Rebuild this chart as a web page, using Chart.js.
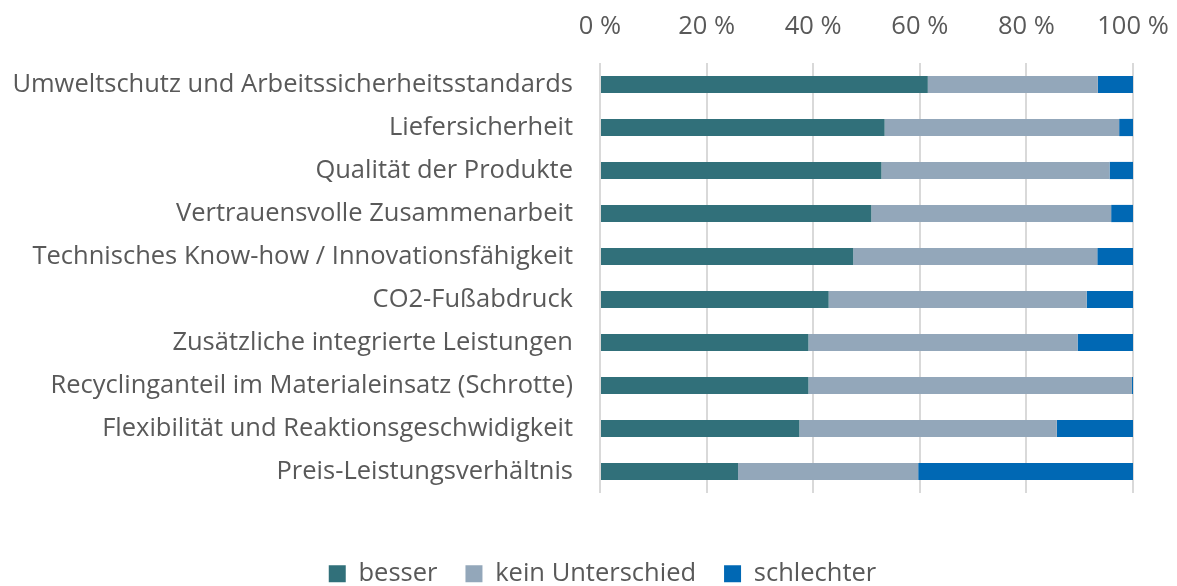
<!DOCTYPE html>
<html>
<head>
<meta charset="utf-8">
<script src="https://cdn.jsdelivr.net/npm/chart.js@4"></script>
<style>
  html, body { margin: 0; padding: 0; background: #ffffff; }
  #wrap { width: 1177px; height: 586px; }
</style>
</head>
<body>
<div id="wrap"><canvas id="c" width="1177" height="586"></canvas></div>
<script>
const categories = [
  "Umweltschutz und Arbeitssicherheitsstandards",
  "Liefersicherheit",
  "Qualität der Produkte",
  "Vertrauensvolle Zusammenarbeit",
  "Technisches Know-how / Innovationsfähigkeit",
  "CO2-Fußabdruck",
  "Zusätzliche integrierte Leistungen",
  "Recyclinganteil im Materialeinsatz (Schrotte)",
  "Flexibilität und Reaktionsgeschwidigkeit",
  "Preis-Leistungsverhältnis"
];
const besser         = [61.5, 53.4, 52.8, 50.9, 47.5, 42.9, 39.1, 39.1, 37.4, 25.9];
const keinUnterschied = [31.9, 44.0, 42.8, 45.0, 45.8, 48.4, 50.5, 60.7, 48.3, 33.8];
const schlechter     = [6.6, 2.6, 4.4, 4.1, 6.7, 8.7, 10.4, 0.2, 14.3, 40.3];
const seriesNames = ["besser", "kein Unterschied", "schlechter"];
const xTicks = [0, 20, 40, 60, 80, 100];

const FONT = "'Open Sans', sans-serif";
const FS = 25.5;
const TEXT = "#595959";

const legendFitPlugin = {
  id: 'legendFit',
  beforeInit(chart) {
    if (!chart.legend) return;
    const orig = chart.legend.fit;
    chart.legend.fit = function () {
      orig.call(this);
      this.height = 53;
    };
  },
  afterLayout(chart) {
    if (!chart.legend) return;
    chart.legend.left += 36;
    chart.legend.right += 36;
  }
};

new Chart(document.getElementById('c'), {
  type: 'bar',
  data: {
    labels: categories,
    datasets: [
      { label: seriesNames[0], data: besser, backgroundColor: '#31707A' },
      { label: seriesNames[1], data: keinUnterschied, backgroundColor: '#93A7BA' },
      { label: seriesNames[2], data: schlechter, backgroundColor: '#0068B4' }
    ]
  },
  options: {
    indexAxis: 'y',
    responsive: false,
    animation: false,
    devicePixelRatio: 1,
    layout: { padding: { left: 0, right: 44, top: 0, bottom: 0 } },
    datasets: { bar: { categoryPercentage: 1, barPercentage: 0.4, borderWidth: 0 } },
    scales: {
      x: {
        position: 'top',
        stacked: true,
        min: 0, max: 100,
        afterBuildTicks(s) { s.ticks = xTicks.map(v => ({ value: v })); },
        afterFit(s) { s.height = 63; },
        grid: { color: '#D9D9D9', lineWidth: 2, drawTicks: true, tickLength: 21, tickColor: 'rgba(0,0,0,0)' },
        border: { display: false },
        ticks: {
          padding: 0,
          color: TEXT,
          font: { family: FONT, size: FS },
          callback: v => v + ' %'
        }
      },
      xb: {
        type: 'linear',
        position: 'bottom',
        display: true,
        afterFit(s) { s.height = 40; },
        grid: { display: false },
        border: { display: false },
        ticks: { display: false }
      },
      y: {
        stacked: true,
        afterFit(s) { s.width = 600; },
        grid: { display: false, drawTicks: false },
        border: { display: false },
        ticks: {
          padding: 27,
          color: TEXT,
          font: { family: FONT, size: FS }
        }
      }
    },
    plugins: {
      legend: {
        position: 'bottom',
        labels: {
          color: TEXT,
          font: { family: FONT, size: FS },
          boxWidth: 17, boxHeight: 17,
          padding: 28
        }
      },
      tooltip: { enabled: false }
    }
  },
  plugins: [legendFitPlugin]
});
</script>
</body>
</html>
